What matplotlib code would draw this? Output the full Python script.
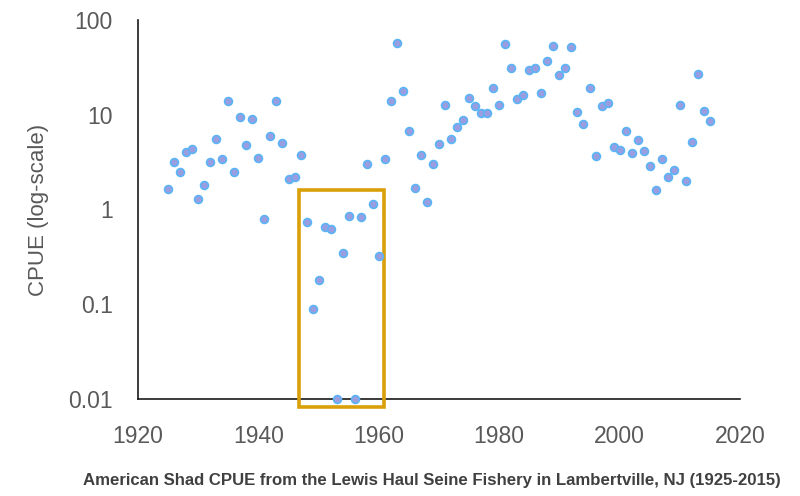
import matplotlib
matplotlib.use("Agg")
import matplotlib.pyplot as plt
from matplotlib.patches import Rectangle

years = [1925, 1926, 1927, 1928, 1929, 1930, 1931, 1932, 1933, 1934,
         1935, 1936, 1937, 1938, 1939, 1940, 1941, 1942, 1943, 1944,
         1945, 1946, 1947, 1948, 1949, 1950, 1951, 1952, 1953, 1954,
         1955, 1956, 1957, 1958, 1959, 1960, 1961, 1962, 1963, 1964,
         1965, 1966, 1967, 1968, 1969, 1970, 1971, 1972, 1973, 1974,
         1975, 1976, 1977, 1978, 1979, 1980, 1981, 1982, 1983, 1984,
         1985, 1986, 1987, 1988, 1989, 1990, 1991, 1992, 1993, 1994,
         1995, 1996, 1997, 1998, 1999, 2000, 2001, 2002, 2003, 2004,
         2005, 2006, 2007, 2008, 2009, 2010, 2011, 2012, 2013, 2014,
         2015]
cpue = [1.65, 3.2, 2.5, 4.0, 4.4, 1.3, 1.8, 3.2, 5.6, 3.4,
        13.8, 2.5, 9.5, 4.8, 9.0, 3.5, 0.8, 5.9, 14.0, 5.0,
        2.1, 2.2, 3.8, 0.74, 0.09, 0.18, 0.66, 0.62, 0.01, 0.35,
        0.85, 0.01, 0.83, 3.0, 1.13, 0.32, 3.4, 14.0, 57.0, 18.0,
        6.7, 1.7, 3.8, 1.2, 3.0, 4.9, 12.6, 5.5, 7.4, 8.7,
        15.0, 12.4, 10.4, 10.4, 19.0, 12.7, 56.0, 31.0, 14.5, 16.0,
        30.0, 31.0, 17.0, 37.0, 53.0, 26.0, 31.0, 52.0, 10.6, 7.9,
        19.0, 3.7, 12.3, 13.3, 4.6, 4.2, 6.8, 3.9, 5.4, 4.1,
        2.9, 1.6, 3.4, 2.2, 2.6, 12.6, 2.0, 5.2, 27.0, 10.9,
        8.6]

x_ticks = [1920, 1940, 1960, 1980, 2000, 2020]
y_ticks = [0.01, 0.1, 1, 10, 100]
y_tick_labels = ["0.01", "0.1", "1", "10", "100"]
ylabel = "CPUE (log-scale)"
caption = "American Shad CPUE from the Lewis Haul Seine Fishery in Lambertville, NJ (1925-2015)"
highlight_years = (1946.7, 1960.9)
highlight_cpue = (0.0083, 1.61)

fam = ['Liberation Sans', 'DejaVu Sans']
plt.rcParams['font.family'] = fam

fig = plt.figure(figsize=(8, 4.96), dpi=100)
ax = fig.add_axes([0.1725, 0.1956, 0.7525, 0.7641])

ax.scatter(years, cpue, s=32, facecolor='#9a9ee0', edgecolor='#5ab4f6',
           linewidth=1.2, zorder=5, clip_on=False)

ax.set_yscale('log')
ax.set_ylim(0.01, 100)
ax.set_xlim(1920, 2020)
ax.set_xticks(x_ticks)
ax.set_xticklabels([str(t) for t in x_ticks])
ax.set_yticks(y_ticks)
ax.set_yticklabels(y_tick_labels)
ax.minorticks_off()
ax.tick_params(axis='both', length=0, labelsize=16.5, colors='#595959')
ax.tick_params(axis='y', pad=18)
ax.tick_params(axis='x', pad=19)

for s in ['top', 'right']:
    ax.spines[s].set_visible(False)
for s in ['left', 'bottom']:
    ax.spines[s].set_color('#1a1a1a')
    ax.spines[s].set_linewidth(1.2)

ax.set_ylabel(ylabel, fontsize=16, color='#595959', labelpad=14)

rect = Rectangle((highlight_years[0], highlight_cpue[0]),
                 highlight_years[1] - highlight_years[0],
                 highlight_cpue[1] - highlight_cpue[0],
                 fill=False, edgecolor='#DAA00A', linewidth=2.6,
                 clip_on=False, zorder=4)
ax.add_patch(rect)

fig.text(0.54, 0.032, caption, ha='center', va='center', fontsize=12.1,
         fontweight='bold', color='#404040')

fig.savefig('out.png', dpi=100)
